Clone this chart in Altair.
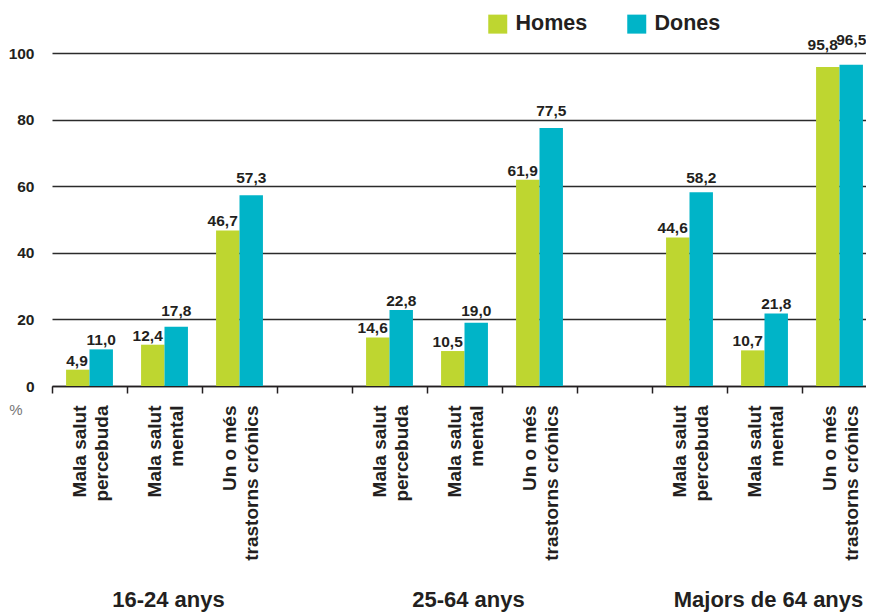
import altair as alt
import pandas as pd

# ---- data ----
groups = ["16-24 anys", "25-64 anys", "Majors de 64 anys"]
indicators = ["Mala salut|percebuda", "Mala salut|mental", "Un o més|trastorns crónics"]
sexes = ["Homes", "Dones"]
homes = [4.9, 12.4, 46.7, 14.6, 10.5, 61.9, 44.6, 10.7, 95.8]
dones = [11.0, 17.8, 57.3, 22.8, 19.0, 77.5, 58.2, 21.8, 96.5]
y_ticks = [0, 20, 40, 60, 80, 100]

# slots: three indicators per group, with an empty slot between groups
slots = []
slot_labels = {}
for gi, g in enumerate(groups):
    for ii, ind in enumerate(indicators):
        key = f"s{gi}{ii}"
        slots.append(key)
        slot_labels[key] = ind.split("|")
    if gi < len(groups) - 1:
        key = f"gap{gi}"
        slots.append(key)
        slot_labels[key] = [""]

rows = []
k = 0
for gi, g in enumerate(groups):
    for ii, ind in enumerate(indicators):
        key = f"s{gi}{ii}"
        rows.append({"slot": key, "sex": "Homes", "value": homes[k],
                     "label": f"{homes[k]:.1f}".replace(".", ",")})
        rows.append({"slot": key, "sex": "Dones", "value": dones[k],
                     "label": f"{dones[k]:.1f}".replace(".", ",")})
        k += 1
df = pd.DataFrame(rows)

group_df = pd.DataFrame({"group": groups, "slot": ["s01", "s11", "s21"]})
pct_df = pd.DataFrame({"t": ["%"]})

FONT = "Liberation Sans"
TXT = "#231f20"
GREEN = "#bed630"
BLUE = "#00b4c8"

H = 333
W = 818

label_map = "{" + ",".join(
    "'" + k + "':[" + ",".join("'" + s + "'" for s in v) + "]" for k, v in slot_labels.items()
) + "}"

x_enc = alt.X("slot:N", scale=alt.Scale(domain=slots, paddingInner=0, paddingOuter=0,
                                        range=[4, 829]),
              axis=alt.Axis(title=None, labelAngle=270, labelExpr=label_map + "[datum.value]",
                            labelFont=FONT, labelFontSize=19, labelFontWeight="bold",
                            labelColor=TXT, labelLineHeight=22, labelPadding=12,
                            labelOffset=-10,
                            tickBand="extent", tickSize=7, tickWidth=1.5, tickColor=TXT,
                            domainColor=TXT, domainWidth=1.5, labelLimit=300, grid=False))
y_enc = alt.Y("value:Q", scale=alt.Scale(domain=[0, 100], nice=False),
              axis=alt.Axis(title=None, values=y_ticks, labelFont=FONT, labelFontSize=15.5,
                            labelFontWeight="bold", labelColor=TXT, labelPadding=14,
                            ticks=False, domain=False, grid=True, gridColor="#2b2b2b",
                            gridWidth=1.5))
color_enc = alt.Color("sex:N", scale=alt.Scale(domain=sexes, range=[GREEN, BLUE]),
                      legend=alt.Legend(title=None, orient="none", legendX=439, legendY=-40,
                                        direction="horizontal", symbolType="square",
                                        symbolSize=361, symbolStrokeWidth=0,
                                        labelFont=FONT, labelFontSize=21.5, labelFontWeight="bold",
                                        labelColor=TXT, labelOffset=7, columnPadding=38,
                                        padding=0, labelLimit=200))
xoff = alt.XOffset("sex:N", scale=alt.Scale(domain=sexes, paddingInner=0, paddingOuter=0.6))

bars = alt.Chart(df).mark_bar().encode(x=x_enc, y=y_enc, color=color_enc, xOffset=xoff)

# value labels sit above the bar, lifted above a gridline they would cross
label_y = ("(datum.value + 1.2 < round((datum.value + 1.2) / 20) * 20 + 0.3 && "
           "datum.value + 4.5 > round((datum.value + 1.2) / 20) * 20 - 0.3) ? "
           "round((datum.value + 1.2) / 20) * 20 + 1.0 : datum.value + 1.2")

labels = (alt.Chart(df)
          .transform_calculate(ly0=label_y)
          .transform_joinaggregate(lymax="max(ly0)", lymin="min(ly0)", groupby=["slot"])
          .transform_calculate(
              ly="datum.sex == 'Dones' && datum.lymax - datum.lymin < 1 ? datum.ly0 + 1.5 : datum.ly0"))

lab_h = labels.transform_filter("datum.sex == 'Homes'").mark_text(
    font=FONT, fontSize=15.5, fontWeight="bold", color=TXT, baseline="alphabetic",
    align="right", dx=10
).encode(x=alt.X("slot:N"), xOffset=xoff, y="ly:Q", text="label:N")

lab_d = labels.transform_filter("datum.sex == 'Dones'").mark_text(
    font=FONT, fontSize=15.5, fontWeight="bold", color=TXT, baseline="alphabetic",
    align="center"
).encode(x=alt.X("slot:N"), xOffset=xoff, y="ly:Q", text="label:N")

grp = alt.Chart(group_df).mark_text(
    font=FONT, fontSize=22, fontWeight="bold", color=TXT, baseline="alphabetic", align="center",
    dx=4
).encode(x=alt.X("slot:N"), y=alt.value(H + 221), text="group:N")

pct = alt.Chart(pct_df).mark_text(
    font=FONT, fontSize=15, color="#777777", align="center", baseline="middle"
).encode(x=alt.value(-32), y=alt.value(H + 24), text="t:N")

chart = alt.layer(bars, lab_h, lab_d, grp, pct).properties(
    width=W, height=H,
    autosize=alt.AutoSizeParams(type="none"),
    padding={"left": 40, "top": 45, "right": 0, "bottom": 228},
).configure_view(stroke=None)

chart.save("out.html", embed_options={"renderer": "svg", "actions": False})
